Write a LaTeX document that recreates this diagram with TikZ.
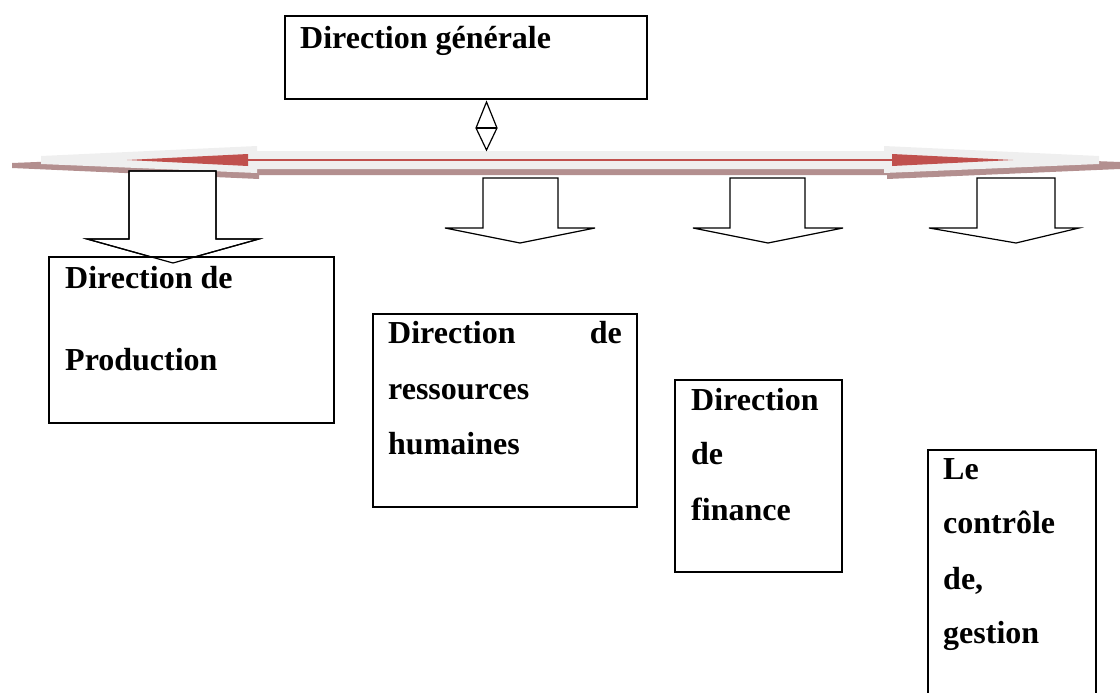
\documentclass[tikz,border=0pt]{standalone}
\usepackage{fontspec}
\setmainfont{Liberation Serif}
\definecolor{bandgray}{HTML}{EFEFEF}
\definecolor{bandshadow}{HTML}{B38F8F}
\definecolor{bandred}{HTML}{C0504D}
\begin{document}
\begin{tikzpicture}[x=1pt,y=-1pt,
  box/.style={draw=black,line width=1.6pt,fill=white,inner sep=0pt},
  lbl/.style={inner sep=0pt,anchor=base west,font=\fontsize{32}{38}\selectfont\bfseries},
  lble/.style={lbl,anchor=base east},
  blockarrow/.style={draw=black,line width=1.2pt,fill=white,line join=miter}]
\useasboundingbox (0,0) rectangle (1120,693);

% main horizontal double arrow: shadow, light band, red line with heads
\fill[bandshadow] (12,163) -- (259,153) -- (259,157) -- (887,157) -- (887,153)
  -- (1120,162) -- (1120,169) -- (887,179) -- (887,175) -- (259,175)
  -- (259,179) -- (12,168) -- cycle;
\fill[bandgray] (41,156) -- (257,146) -- (257,151) -- (884,151) -- (884,146)
  -- (1099,156) -- (1099,164) -- (884,173) -- (884,169) -- (257,169)
  -- (257,173) -- (41,164) -- cycle;
\draw[bandred,line width=1.8pt] (247,160) -- (893,160);
\fill[bandred] (127,160) -- (248,154) -- (248,166) -- cycle;
\fill[bandred] (1013,160) -- (892,154) -- (892,166) -- cycle;

% top box and its up-down link
\node[box,minimum width=362pt,minimum height=83pt] (dg) at (466,57.5) {};
\node[lbl] (dgt) at (300,49) {Direction générale};
\coordinate (lk) at (486.5,128);
\draw[line width=1.2pt,fill=white] (486.5,102) -- (497,128) -- (486.5,150) -- (476,128) -- cycle;
\draw[line width=1.2pt] (476,128) -- (497,128);

% down block arrows
\def\prodarrow{(129,171) -- (216,171) -- (216,239) -- (259,239) -- (173,263)
  -- (87,239) -- (129,239) -- cycle}
\draw[blockarrow] \prodarrow;
\draw[blockarrow] (483,178) -- (558,178) -- (558,228) -- (595,228) -- (520,243)
  -- (445,228) -- (483,228) -- cycle;
\draw[blockarrow] (730,178) -- (805,178) -- (805,228) -- (843,228) -- (768,243)
  -- (693,228) -- (730,228) -- cycle;
\draw[blockarrow] (977,178) -- (1055,178) -- (1055,228) -- (1079,228) -- (1016,243)
  -- (929,228) -- (977,228) -- cycle;

% department boxes
\node[box,minimum width=285pt,minimum height=166pt] (prod) at (191.5,340) {};
\draw[line width=1.2pt,line join=miter] \prodarrow;
\node[lbl] (prod1) at (65,288) {Direction de};
\node[lbl] (prod2) at (65,370) {Production};

\node[box,minimum width=264pt,minimum height=193pt] (rh) at (505,410.5) {};
\node[lbl] (rh1) at (388,343) {Direction};
\node[lble] (rh1b) at (622,343) {de};
\node[lbl] (rh2) at (388,399) {ressources};
\node[lbl] (rh3) at (388,454) {humaines};

\node[box,minimum width=167pt,minimum height=192pt] (fin) at (758.5,476) {};
\node[lbl] (fin1) at (691,410) {Direction};
\node[lbl] (fin2) at (691,464) {de};
\node[lbl] (fin3) at (691,520) {finance};

\node[box,minimum width=168pt,minimum height=270pt] (cg) at (1012,585) {};
\node[lbl] (cg1) at (943,479) {Le};
\node[lbl] (cg2) at (943,533) {contrôle};
\node[lbl] (cg3) at (943,589) {de,};
\node[lbl] (cg4) at (943,643) {gestion};
\end{tikzpicture}
\end{document}
